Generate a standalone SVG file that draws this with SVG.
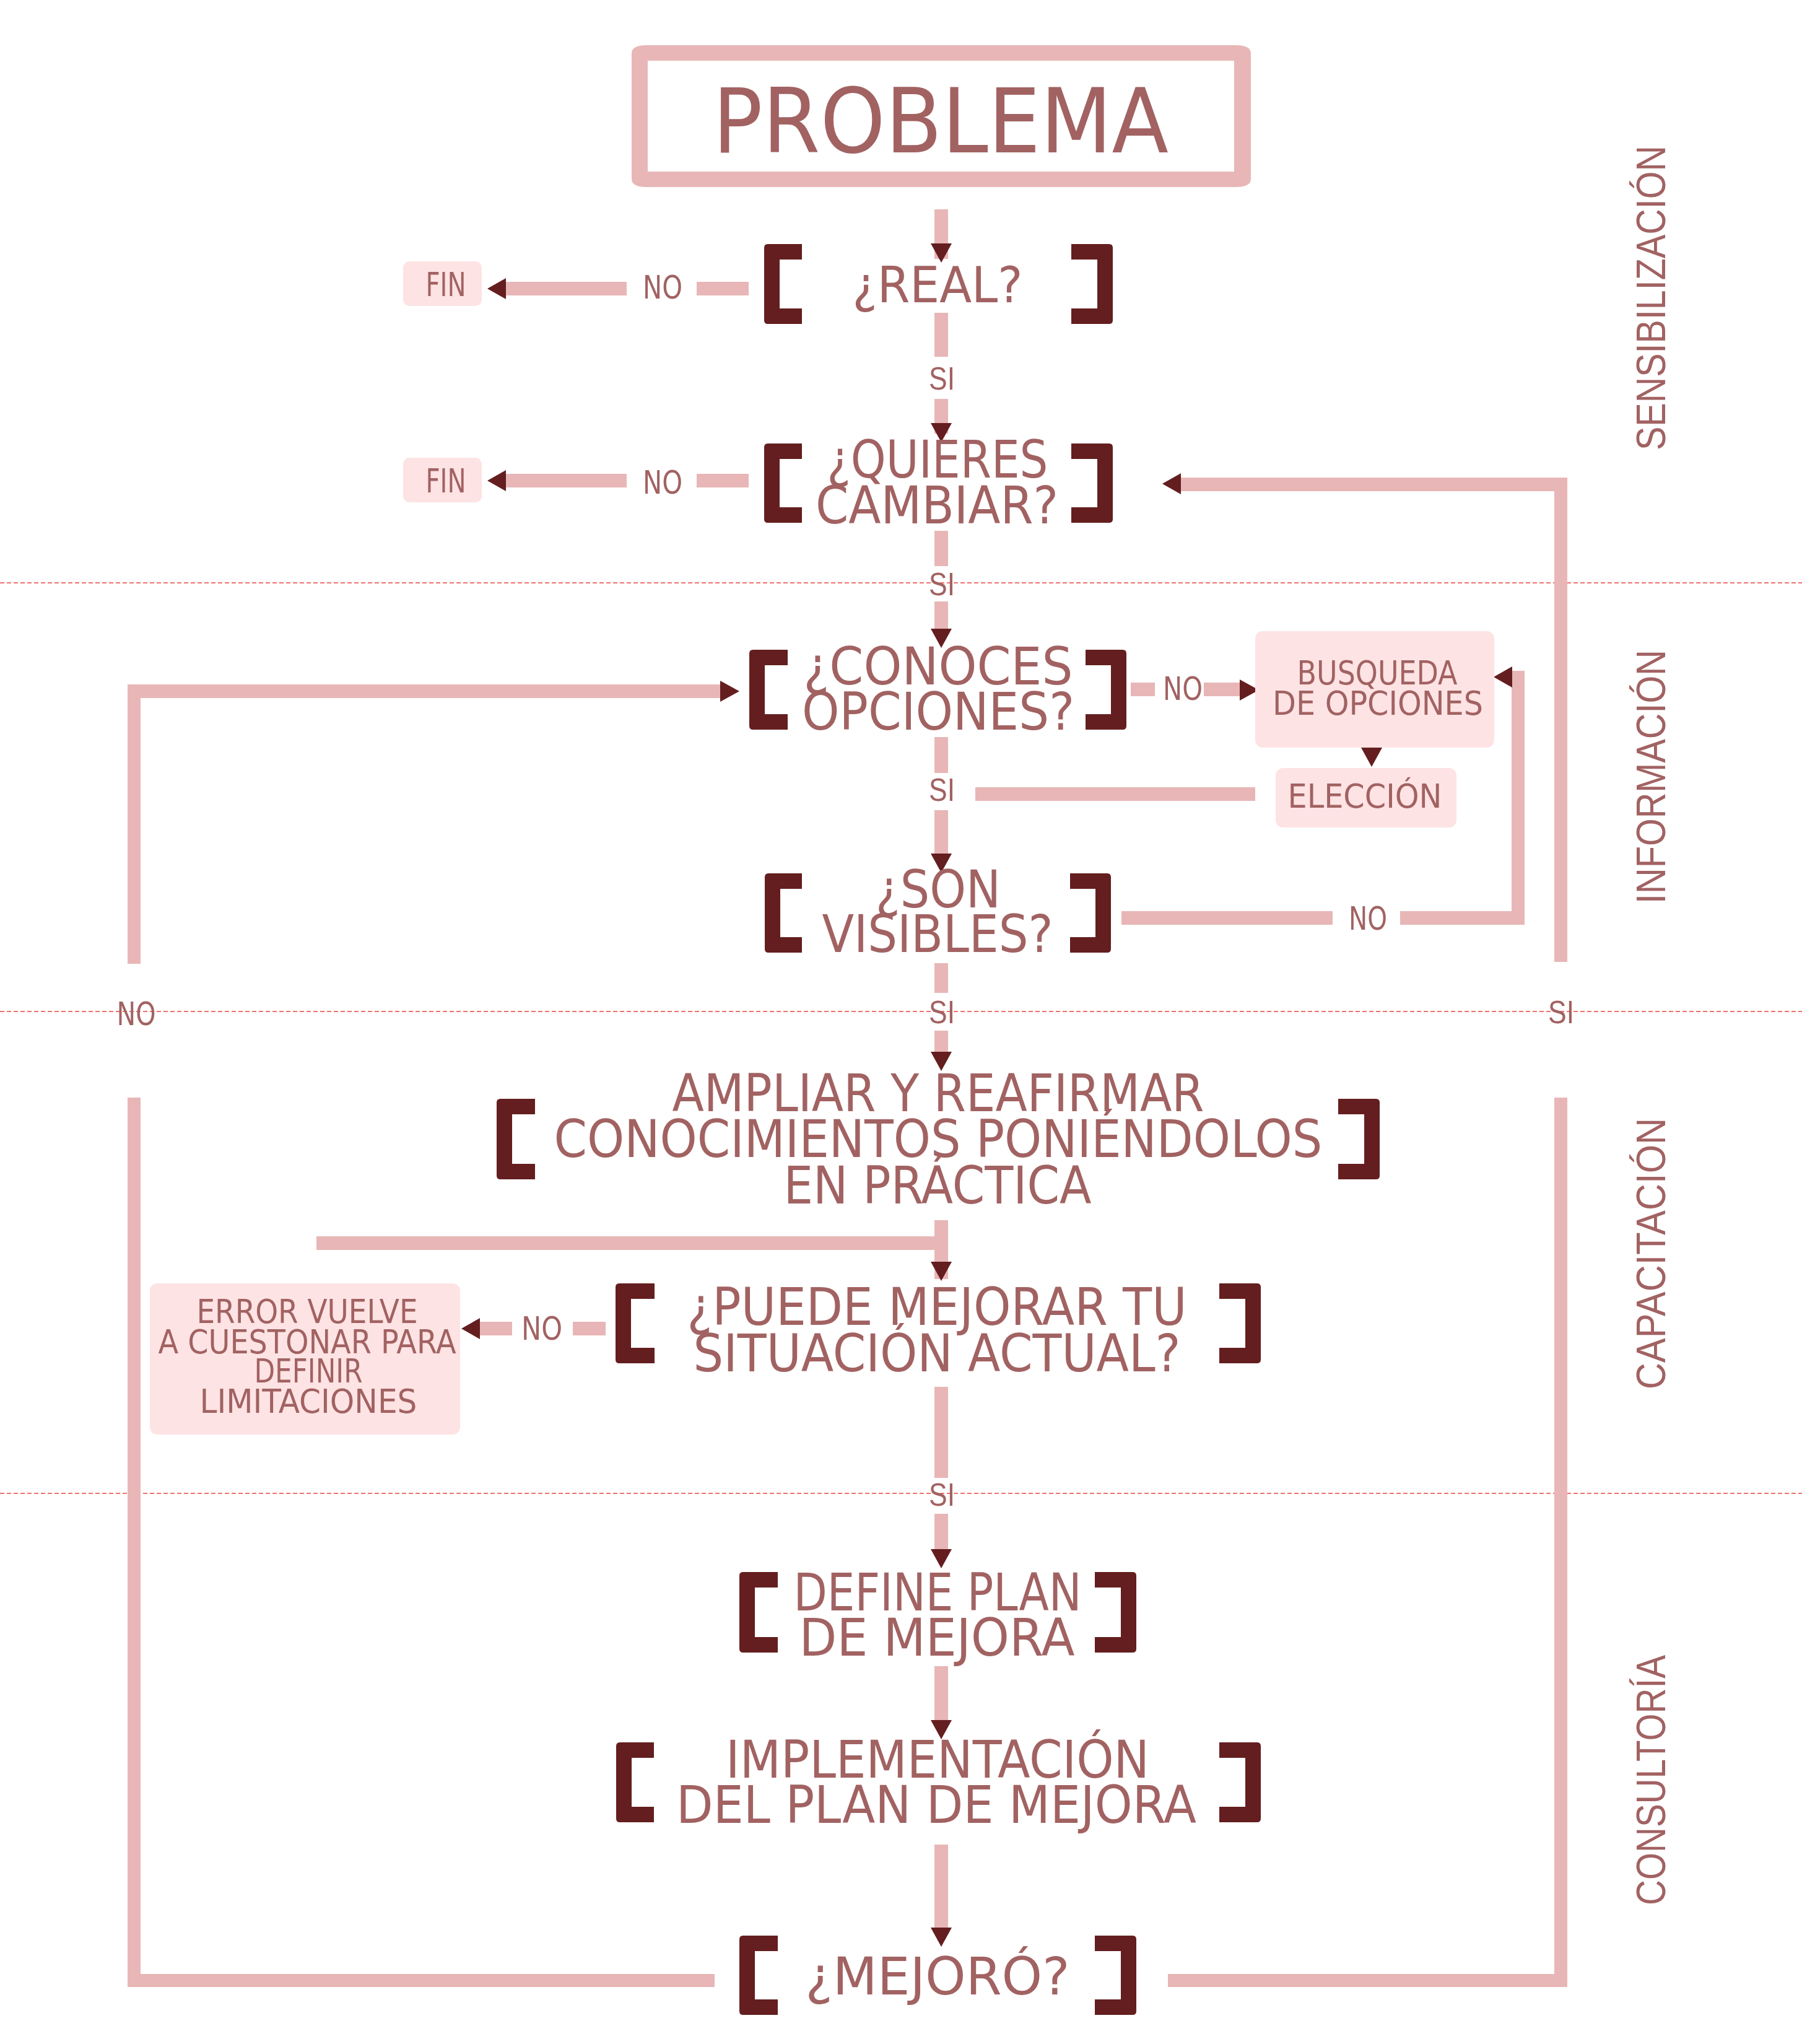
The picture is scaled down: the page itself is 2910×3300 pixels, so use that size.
<svg xmlns="http://www.w3.org/2000/svg" xmlns:xlink="http://www.w3.org/1999/xlink" width="2910" height="3300" viewBox="0 0 2910 3300">
<style>
.bg{fill:#FFFFFF}
.ln{fill:#E8B6B6}
.ah{fill:#641E1F}
.br{fill:#641E1F}
.bx{fill:#FDE3E4}
.sep{stroke:#E8463F;stroke-width:1.6;stroke-dasharray:7 4;fill:none}
.t{font-family:"Liberation Sans Narrow","DejaVu Sans Condensed","Liberation Sans",sans-serif;fill:#A26262;text-anchor:middle}
.s{font-family:"Liberation Sans","DejaVu Sans",sans-serif;fill:#A26262;text-anchor:middle}
.big{font-size:84px}
.mid{font-size:54px}
.lab{font-size:52px}
.sec{font-size:67px}
</style>
<defs>
<polygon id="ad" points="-17,0 17,0 0,31"/>
<polygon id="al" points="0,0 30,-17 30,17"/>
<polygon id="ar" points="0,-17 0,17 31,0"/>
</defs>
<rect class="bg" x="0" y="0" width="2910" height="3300"/>

<g id="separators">
<line class="sep" x1="0" y1="941" x2="2910" y2="941"/>
<line class="sep" x1="0" y1="1633" x2="2910" y2="1633"/>
<line class="sep" x1="0" y1="2411" x2="2910" y2="2411"/>
</g>

<g id="connectors">
<rect class="ln" x="1509" y="338" width="22" height="80"/>
<use href="#ad" class="ah" x="1520" y="393"/>
<!-- REAL no -> FIN -->
<rect class="ln" x="1125" y="455" width="84" height="22"/>
<rect class="ln" x="817" y="455" width="195" height="22"/>
<use href="#al" class="ah" x="787" y="466"/>
<text class="t lab" x="1070" y="482" textLength="64" lengthAdjust="spacingAndGlyphs">NO</text>
<!-- REAL si -> QUIERES -->
<rect class="ln" x="1509" y="505" width="22" height="71"/>
<text class="s lab" x="1521" y="629" textLength="42" lengthAdjust="spacingAndGlyphs">SI</text>
<rect class="ln" x="1509" y="644" width="22" height="56"/>
<use href="#ad" class="ah" x="1520" y="683"/>
<!-- QUIERES no -> FIN -->
<rect class="ln" x="1125" y="765" width="84" height="22"/>
<rect class="ln" x="817" y="765" width="195" height="22"/>
<use href="#al" class="ah" x="787" y="776"/>
<text class="t lab" x="1070" y="797" textLength="64" lengthAdjust="spacingAndGlyphs">NO</text>
<!-- QUIERES si -> CONOCES -->
<rect class="ln" x="1509" y="857" width="22" height="57"/>
<text class="s lab" x="1521" y="961" textLength="42" lengthAdjust="spacingAndGlyphs">SI</text>
<rect class="ln" x="1509" y="971" width="22" height="54"/>
<use href="#ad" class="ah" x="1520" y="1015"/>
<!-- CONOCES no -> BUSQUEDA -->
<rect class="ln" x="1826" y="1102" width="39" height="22"/>
<text class="t lab" x="1910" y="1130" textLength="64" lengthAdjust="spacingAndGlyphs">NO</text>
<rect class="ln" x="1944" y="1102" width="60" height="22"/>
<use href="#ar" class="ah" x="2002" y="1114"/>
<!-- BUSQUEDA -> ELECCION -->
<use href="#ad" class="ah" x="2215" y="1207"/>
<!-- ELECCION -> SI -->
<rect class="ln" x="1575" y="1271" width="452" height="22"/>
<!-- CONOCES si -> SON -->
<rect class="ln" x="1509" y="1190" width="22" height="58"/>
<text class="s lab" x="1521" y="1293" textLength="42" lengthAdjust="spacingAndGlyphs">SI</text>
<rect class="ln" x="1509" y="1308" width="22" height="77"/>
<use href="#ad" class="ah" x="1520" y="1378"/>
<!-- SON no -> loop to BUSQUEDA -->
<rect class="ln" x="1811" y="1471" width="341" height="22"/>
<text class="t lab" x="2209" y="1501" textLength="62" lengthAdjust="spacingAndGlyphs">NO</text>
<rect class="ln" x="2261" y="1471" width="201" height="22"/>
<rect class="ln" x="2441" y="1083" width="21" height="410"/>
<rect class="ln" x="2438" y="1083" width="24" height="21"/>
<use href="#al" class="ah" x="2412" y="1093"/>
<!-- SON si -> AMPLIAR -->
<rect class="ln" x="1509" y="1555" width="22" height="48"/>
<text class="s lab" x="1521" y="1652" textLength="42" lengthAdjust="spacingAndGlyphs">SI</text>
<rect class="ln" x="1509" y="1664" width="22" height="40"/>
<use href="#ad" class="ah" x="1520" y="1698"/>
<!-- AMPLIAR -> PUEDE -->
<rect class="ln" x="1509" y="1970" width="22" height="95"/>
<rect class="ln" x="511" y="1996" width="1020" height="22"/>
<use href="#ad" class="ah" x="1520" y="2037"/>
<!-- PUEDE no -> ERROR -->
<rect class="ln" x="925" y="2134" width="53" height="22"/>
<text class="t lab" x="875" y="2163" textLength="66" lengthAdjust="spacingAndGlyphs">NO</text>
<rect class="ln" x="774" y="2134" width="53" height="22"/>
<use href="#al" class="ah" x="745" y="2145"/>
<!-- PUEDE si -> DEFINE -->
<rect class="ln" x="1509" y="2239" width="22" height="147"/>
<text class="s lab" x="1521" y="2431" textLength="42" lengthAdjust="spacingAndGlyphs">SI</text>
<rect class="ln" x="1509" y="2444" width="22" height="62"/>
<use href="#ad" class="ah" x="1520" y="2501"/>
<!-- DEFINE -> IMPL -->
<rect class="ln" x="1509" y="2690" width="22" height="95"/>
<use href="#ad" class="ah" x="1520" y="2777"/>
<!-- IMPL -> MEJORO -->
<rect class="ln" x="1509" y="2978" width="22" height="140"/>
<use href="#ad" class="ah" x="1520" y="3112"/>
<!-- MEJORO no -> CONOCES (left loop) -->
<rect class="ln" x="206" y="3187" width="948" height="21"/>
<rect class="ln" x="206" y="1772" width="21" height="1436"/>
<text class="t lab" x="220" y="1655" textLength="63" lengthAdjust="spacingAndGlyphs">NO</text>
<rect class="ln" x="206" y="1105" width="21" height="451"/>
<rect class="ln" x="206" y="1105" width="959" height="22"/>
<use href="#ar" class="ah" x="1163" y="1116"/>
<!-- MEJORO si -> QUIERES (right loop) -->
<rect class="ln" x="1886" y="3187" width="645" height="21"/>
<rect class="ln" x="2510" y="1772" width="21" height="1436"/>
<text class="s lab" x="2521" y="1652" textLength="42" lengthAdjust="spacingAndGlyphs">SI</text>
<rect class="ln" x="2510" y="771" width="21" height="782"/>
<rect class="ln" x="1906" y="771" width="625" height="22"/>
<use href="#al" class="ah" x="1877" y="781"/>
</g>

<g id="problema">
<path class="ln" fill-rule="evenodd" d="M1045,73 H1995 Q2020,73 2020,86 V289 Q2020,302 1995,302 H1045 Q1020,302 1020,289 V86 Q1020,73 1045,73 Z M1046,98 V277 H1993 V98 Z"/>
<text class="t" x="1519" y="246" font-size="145" textLength="736" lengthAdjust="spacingAndGlyphs">PROBLEMA</text>
</g>

<g id="real">
<path class="br" d="M1295,394 H1240 Q1234,394 1234,400 V517 Q1234,523 1240,523 H1295 V498 H1259 V419 H1295 Z"/>
<path class="br" d="M1730,394 H1791 Q1797,394 1797,400 V517 Q1797,523 1791,523 H1730 V498 H1772 V419 H1730 Z"/>
<text class="t" x="1514" y="488" font-size="81" textLength="275" lengthAdjust="spacingAndGlyphs">¿REAL?</text>
</g>

<g id="fin1">
<rect class="bx" x="651" y="422" width="127" height="72" rx="10"/>
<text class="t mid" x="720" y="478" textLength="65" lengthAdjust="spacingAndGlyphs">FIN</text>
</g>

<g id="quieres">
<path class="br" d="M1295,716 H1240 Q1234,716 1234,722 V838 Q1234,844 1240,844 H1295 V819 H1259 V741 H1295 Z"/>
<path class="br" d="M1730,716 H1791 Q1797,716 1797,722 V838 Q1797,844 1791,844 H1730 V819 H1772 V741 H1730 Z"/>
<text class="t big" x="1514" y="771" textLength="357" lengthAdjust="spacingAndGlyphs">¿QUIERES</text>
<text class="t big" x="1513" y="845" textLength="392" lengthAdjust="spacingAndGlyphs">CAMBIAR?</text>
</g>

<g id="fin2">
<rect class="bx" x="651" y="739" width="127" height="72" rx="10"/>
<text class="t mid" x="720" y="795" textLength="65" lengthAdjust="spacingAndGlyphs">FIN</text>
</g>

<g id="conoces">
<path class="br" d="M1272,1049 H1216 Q1210,1049 1210,1055 V1172 Q1210,1178 1216,1178 H1272 V1153 H1235 V1074 H1272 Z"/>
<path class="br" d="M1753,1049 H1813 Q1819,1049 1819,1055 V1172 Q1819,1178 1813,1178 H1753 V1153 H1794 V1074 H1753 Z"/>
<text class="t big" x="1515" y="1105" textLength="435" lengthAdjust="spacingAndGlyphs">¿CONOCES</text>
<text class="t big" x="1515" y="1178" textLength="440" lengthAdjust="spacingAndGlyphs">OPCIONES?</text>
</g>

<g id="busqueda">
<rect class="bx" x="2027" y="1019" width="386" height="188" rx="12"/>
<text class="t mid" x="2224" y="1105" textLength="259" lengthAdjust="spacingAndGlyphs">BUSQUEDA</text>
<text class="t mid" x="2225" y="1154" textLength="340" lengthAdjust="spacingAndGlyphs">DE OPCIONES</text>
</g>

<g id="eleccion">
<rect class="bx" x="2060" y="1240" width="292" height="96" rx="12"/>
<text class="t mid" x="2204" y="1304" textLength="249" lengthAdjust="spacingAndGlyphs">ELECCIÓN</text>
</g>

<g id="son">
<path class="br" d="M1295,1410 H1241 Q1235,1410 1235,1416 V1532 Q1235,1538 1241,1538 H1295 V1513 H1260 V1435 H1295 Z"/>
<path class="br" d="M1728,1410 H1788 Q1794,1410 1794,1416 V1532 Q1794,1538 1788,1538 H1728 V1513 H1769 V1435 H1728 Z"/>
<text class="t big" x="1515" y="1465" textLength="202" lengthAdjust="spacingAndGlyphs">¿SON</text>
<text class="t big" x="1514" y="1537" textLength="373" lengthAdjust="spacingAndGlyphs">VISIBLES?</text>
</g>

<g id="ampliar">
<path class="br" d="M864,1774 H808 Q802,1774 802,1780 V1898 Q802,1904 808,1904 H864 V1879 H827 V1799 H864 Z"/>
<path class="br" d="M2161,1774 H2222 Q2228,1774 2228,1780 V1898 Q2228,1904 2222,1904 H2161 V1879 H2203 V1799 H2161 Z"/>
<text class="t big" x="1515" y="1794" textLength="859" lengthAdjust="spacingAndGlyphs">AMPLIAR Y REAFIRMAR</text>
<text class="t big" x="1515" y="1868" textLength="1241" lengthAdjust="spacingAndGlyphs">CONOCIMIENTOS PONIÉNDOLOS</text>
<text class="t big" x="1514" y="1943" textLength="497" lengthAdjust="spacingAndGlyphs">EN PRÁCTICA</text>
</g>

<g id="puede">
<path class="br" d="M1057,2072 H1000 Q994,2072 994,2078 V2195 Q994,2201 1000,2201 H1057 V2176 H1019 V2097 H1057 Z"/>
<path class="br" d="M1969,2072 H2030 Q2036,2072 2036,2078 V2195 Q2036,2201 2030,2201 H1969 V2176 H2011 V2097 H1969 Z"/>
<text class="t big" x="1513" y="2139" textLength="807" lengthAdjust="spacingAndGlyphs">¿PUEDE MEJORAR TU</text>
<text class="t big" x="1513" y="2214" textLength="787" lengthAdjust="spacingAndGlyphs">SITUACIÓN ACTUAL?</text>
</g>

<g id="error">
<rect class="bx" x="242" y="2072" width="501" height="244" rx="12"/>
<text class="t mid" x="496" y="2136" textLength="357" lengthAdjust="spacingAndGlyphs">ERROR VUELVE</text>
<text class="t mid" x="496" y="2185" textLength="481" lengthAdjust="spacingAndGlyphs">A CUESTONAR PARA</text>
<text class="t mid" x="498" y="2232" textLength="175" lengthAdjust="spacingAndGlyphs">DEFINIR</text>
<text class="t mid" x="498" y="2281" textLength="351" lengthAdjust="spacingAndGlyphs">LIMITACIONES</text>
</g>

<g id="define">
<path class="br" d="M1256,2538 H1200 Q1194,2538 1194,2544 V2662 Q1194,2668 1200,2668 H1256 V2643 H1219 V2563 H1256 Z"/>
<path class="br" d="M1768,2538 H1829 Q1835,2538 1835,2544 V2662 Q1835,2668 1829,2668 H1768 V2643 H1810 V2563 H1768 Z"/>
<text class="t big" x="1514" y="2600" textLength="465" lengthAdjust="spacingAndGlyphs">DEFINE PLAN</text>
<text class="t big" x="1513" y="2673" textLength="445" lengthAdjust="spacingAndGlyphs">DE MEJORA</text>
</g>

<g id="implementacion">
<path class="br" d="M1056,2813 H1001 Q995,2813 995,2819 V2936 Q995,2942 1001,2942 H1056 V2917 H1020 V2838 H1056 Z"/>
<path class="br" d="M1969,2813 H2030 Q2036,2813 2036,2819 V2936 Q2036,2942 2030,2942 H1969 V2917 H2011 V2838 H1969 Z"/>
<text class="t big" x="1514" y="2870" textLength="684" lengthAdjust="spacingAndGlyphs">IMPLEMENTACIÓN</text>
<text class="t big" x="1512" y="2943" textLength="840" lengthAdjust="spacingAndGlyphs">DEL PLAN DE MEJORA</text>
</g>

<g id="mejoro">
<path class="br" d="M1256,3125 H1200 Q1194,3125 1194,3131 V3247 Q1194,3253 1200,3253 H1256 V3228 H1219 V3150 H1256 Z"/>
<path class="br" d="M1768,3125 H1829 Q1835,3125 1835,3131 V3247 Q1835,3253 1829,3253 H1768 V3228 H1810 V3150 H1768 Z"/>
<text class="t big" x="1514" y="3220" textLength="427" lengthAdjust="spacingAndGlyphs">¿MEJORÓ?</text>
</g>

<g id="sections">
<text class="s sec" transform="translate(2689,481) rotate(-90)" textLength="492" lengthAdjust="spacingAndGlyphs">SENSIBILIZACIÓN</text>
<text class="s sec" transform="translate(2689,1254) rotate(-90)" textLength="410" lengthAdjust="spacingAndGlyphs">INFORMACIÓN</text>
<text class="s sec" transform="translate(2689,2024) rotate(-90)" textLength="438" lengthAdjust="spacingAndGlyphs">CAPACITACIÓN</text>
<text class="s sec" transform="translate(2689,2874) rotate(-90)" textLength="404" lengthAdjust="spacingAndGlyphs">CONSULTORÍA</text>
</g>
</svg>
